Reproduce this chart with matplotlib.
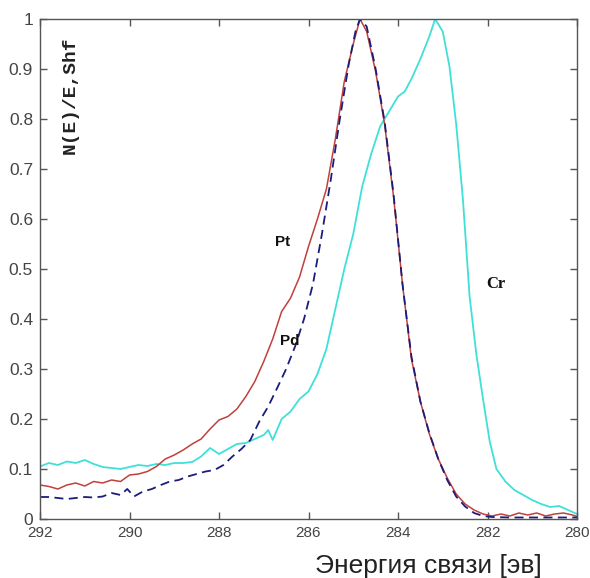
import matplotlib
matplotlib.use("Agg")
import matplotlib.pyplot as plt

# ---- data ----
pt_x = [292.0, 291.8, 291.6, 291.4, 291.2, 291.0, 290.8, 290.6, 290.4, 290.2, 290.0, 289.8, 289.6,
        289.4, 289.2, 289.0, 288.8, 288.6, 288.4, 288.2, 288.0, 287.8, 287.6, 287.4, 287.2, 287.0,
        286.8, 286.6, 286.4, 286.2, 286.0, 285.8, 285.6, 285.4, 285.2, 285.0, 284.85, 284.7, 284.5,
        284.3, 284.1, 283.9, 283.7, 283.5, 283.3, 283.1, 282.9, 282.7, 282.5, 282.3, 282.1, 281.9,
        281.7, 281.5, 281.3, 281.1, 280.9, 280.7, 280.5, 280.3, 280.1, 280.0]
pt_y = [0.068, 0.065, 0.060, 0.068, 0.072, 0.066, 0.075, 0.072, 0.078, 0.075, 0.088, 0.090, 0.095,
        0.105, 0.120, 0.128, 0.138, 0.150, 0.160, 0.180, 0.198, 0.205, 0.220, 0.245, 0.275, 0.315,
        0.360, 0.415, 0.442, 0.484, 0.545, 0.600, 0.660, 0.760, 0.875, 0.950, 1.000, 0.975, 0.895,
        0.790, 0.645, 0.470, 0.320, 0.235, 0.170, 0.120, 0.082, 0.050, 0.030, 0.018, 0.010, 0.006,
        0.010, 0.006, 0.012, 0.008, 0.012, 0.006, 0.010, 0.012, 0.008, 0.005]

pd_x = [292.0, 291.8, 291.6, 291.4, 291.2, 291.0, 290.8, 290.6, 290.4, 290.2, 290.05, 289.9, 289.7,
        289.5, 289.3, 289.1, 288.9, 288.7, 288.5, 288.3, 288.1, 287.9, 287.7, 287.5, 287.3, 287.1,
        286.9, 286.7, 286.5, 286.3, 286.1, 285.9, 285.7, 285.5, 285.3, 285.1, 284.95, 284.85, 284.7,
        284.5, 284.3, 284.1, 283.9, 283.7, 283.5, 283.3, 283.1, 282.9, 282.7, 282.5, 282.3, 282.1,
        281.9, 281.5, 281.0, 280.5, 280.0]
pd_y = [0.044, 0.044, 0.042, 0.040, 0.042, 0.044, 0.043, 0.045, 0.052, 0.048, 0.060, 0.045, 0.055,
        0.060, 0.068, 0.075, 0.078, 0.085, 0.090, 0.095, 0.098, 0.108, 0.125, 0.140, 0.158, 0.195,
        0.225, 0.262, 0.300, 0.345, 0.400, 0.470, 0.570, 0.680, 0.800, 0.910, 0.975, 1.000, 0.985,
        0.900, 0.795, 0.650, 0.470, 0.325, 0.235, 0.172, 0.120, 0.078, 0.045, 0.025, 0.012, 0.006,
        0.004, 0.003, 0.003, 0.003, 0.003]

cr_x = [292.0, 291.8, 291.6, 291.4, 291.2, 291.0, 290.8, 290.6, 290.4, 290.2, 290.0, 289.8, 289.6,
        289.4, 289.2, 289.0, 288.8, 288.6, 288.4, 288.2, 288.0, 287.8, 287.6, 287.4, 287.2, 287.0,
        286.9, 286.8, 286.6, 286.4, 286.2, 286.0, 285.8, 285.6, 285.4, 285.2, 285.0, 284.8, 284.6,
        284.4, 284.2, 284.0, 283.85, 283.7, 283.5, 283.3, 283.17, 283.0, 282.85, 282.7, 282.55,
        282.4, 282.25, 282.1, 281.95, 281.8, 281.6, 281.4, 281.2, 281.0, 280.8, 280.6, 280.4,
        280.2, 280.0]
cr_y = [0.105, 0.112, 0.108, 0.115, 0.112, 0.118, 0.110, 0.104, 0.102, 0.100, 0.104, 0.108, 0.106,
        0.110, 0.108, 0.112, 0.112, 0.114, 0.125, 0.142, 0.130, 0.140, 0.150, 0.152, 0.160, 0.168,
        0.178, 0.158, 0.200, 0.215, 0.240, 0.255, 0.290, 0.340, 0.420, 0.500, 0.570, 0.665, 0.730,
        0.785, 0.815, 0.845, 0.855, 0.880, 0.920, 0.965, 1.000, 0.975, 0.905, 0.790, 0.640,
        0.445, 0.330, 0.240, 0.155, 0.100, 0.075, 0.058, 0.048, 0.038, 0.030, 0.024, 0.026,
        0.018, 0.010]

x_ticks = [292, 290, 288, 286, 284, 282, 280]
y_ticks = [0, 0.1, 0.2, 0.3, 0.4, 0.5, 0.6, 0.7, 0.8, 0.9, 1]
y_tick_labels = ["0", "0.1", "0.2", "0.3", "0.4", "0.5", "0.6", "0.7", "0.8", "0.9", "1"]

# ---- figure ----
fig = plt.figure(figsize=(5.9, 5.78), dpi=100)
ax = fig.add_axes([40/590, 1-519/578, 537/590, 500/578])

ax.plot(cr_x, cr_y, color="#3fe0d8", lw=1.3)
ax.plot(pt_x, pt_y, color="#c0403c", lw=1.1)
ax.plot(pd_x, pd_y, color="#1c1c7a", lw=1.3, ls=(0, (5, 3)))

ax.set_xlim(292, 280)
ax.set_ylim(0, 1)
ax.set_xticks(x_ticks)
ax.set_xticklabels([str(t) for t in x_ticks])
ax.set_yticks(y_ticks)
ax.set_yticklabels(y_tick_labels)

for s in ax.spines.values():
    s.set_color("#555555")
    s.set_linewidth(1.0)
ax.tick_params(direction="in", top=True, right=True, length=5, width=1.0,
               colors="#555555", labelcolor="#444444", pad=5)
ax.tick_params(axis="x", labelsize=11)
ax.tick_params(axis="y", labelsize=12.5)
for lab in ax.get_xticklabels() + ax.get_yticklabels():
    lab.set_family("Liberation Sans")

ax.text(286.58, 0.554, "Pt", family="Liberation Sans", weight="bold", fontsize=11,
        ha="center", va="center", color="#111111")
ax.text(286.43, 0.356, "Pd", family="Liberation Sans", weight="bold", fontsize=11,
        ha="center", va="center", color="#111111")
ax.text(281.81, 0.47, "Cr", family="Liberation Serif", weight="bold", fontsize=12,
        ha="center", va="center", color="#111111")

ax.text(291.32, 0.848, "N(E)/E,Shf", family="Liberation Mono", weight="bold", fontsize=14,
        rotation=90, ha="center", va="center", color="#222222")

fig.text(428/590, 1-566/578, "Энергия связи [эв]", family="Liberation Sans", fontsize=19,
         ha="center", va="center", color="#222222")

fig.savefig("out.png", dpi=100, facecolor="white")
